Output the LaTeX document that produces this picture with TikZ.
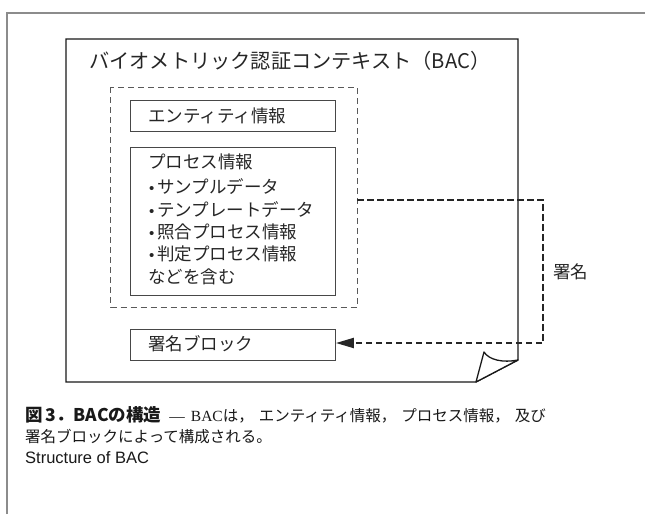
\documentclass[tikz,border=0pt]{standalone}
\usepackage{fontspec}
\setmainfont{Liberation Sans}
\newfontfamily\cjk{Noto Sans CJK JP}
\newfontfamily\serifen{Liberation Serif}
\usetikzlibrary{arrows.meta}
\newcommand{\blt}{\makebox[11pt][c]{\rmfamily\fontsize{15}{15}\selectfont •}}
\newcommand{\jcomma}{，\hspace{5pt}}
\tikzset{
  box/.style={draw=black!72, line width=0.9pt, rectangle, anchor=north west, inner sep=0pt},
  dashbox/.style={draw=black!65, line width=0.9pt, dash pattern=on 6pt off 4pt},
  doc/.style={draw=black!90, line width=1.3pt, line join=miter},
  frame/.style={draw=black!45, line width=1.6pt},
  jtxt/.style={font=\cjk\fontsize{17.5}{21}\selectfont, anchor=west, inner sep=0pt, text=black!85},
  titletxt/.style={font=\cjk\fontsize{20.2}{24}\selectfont, anchor=west, inner sep=0pt, text=black!85},
  sigarrow/.style={draw=black!85, line width=2.1pt, dash pattern=on 6.5pt off 3.5pt, -{Triangle[length=18pt,width=10pt]}},
  captxt/.style={anchor=west, inner sep=0pt, text=black!90}
}
\begin{document}
\begin{tikzpicture}[x=1pt,y=-1pt]
\path[use as bounding box, fill=white] (0,0) rectangle (645,514);
% outer frame (top and left only visible)
\draw[frame] (7,514) -- (7,13) -- (645,13);
% document with folded corner
\draw[doc, fill=white] (66,39) -- (518,39) -- (518,360) -- (476,382) -- (66,382) -- cycle;
\draw[doc, fill=white, line join=round] (476,382) -- (484,352) .. controls (489,360) and (503,363) .. (518,360) -- cycle;
\node[titletxt] (title) at (89,61) {バイオメトリック認証コンテキスト（BAC）};
% dashed group
\draw[dashbox] (110.5,87) rectangle (357,307);
\coordinate (grpR) at (357,200);
% entity box
\node[box, minimum width=205pt, minimum height=31pt] (ent) at (130,100) {};
\node[jtxt] (enttxt) at (148,115.5) {エンティティ情報};
% process box
\node[box, minimum width=205pt, minimum height=148pt] (proc) at (130,147) {};
\node[jtxt] (p0) at (148,162) {プロセス情報};
\node[jtxt] (p1) at (146,187) {\blt サンプルデータ};
\node[jtxt] (p2) at (146,210) {\blt テンプレートデータ};
\node[jtxt] (p3) at (146,232) {\blt 照合プロセス情報};
\node[jtxt] (p4) at (146,254) {\blt 判定プロセス情報};
\node[jtxt] (p5) at (148,277) {などを含む};
% signature block
\node[box, minimum width=205pt, minimum height=31pt] (sig) at (130,328.5) {};
\node[jtxt] (sigtxt) at (148,344) {署名ブロック};
% signature arrow
\coordinate (c1) at (543,200);
\coordinate (c2) at (543,343);
\draw[sigarrow] (grpR) -- (c1) -- (c2) -- (sig.east |- c2);
\node[jtxt] (siglbl) at (553,272) {署名};
% caption
\node[captxt] (cap1) at (25,415) {{\cjk\bfseries\fontsize{17.5}{20}\selectfont 図\,3．BACの構造}\hspace{8pt}{\serifen\fontsize{15.5}{18}\selectfont —\hspace{6pt}BAC}{\cjk\fontsize{15.5}{18}\selectfont は\jcomma エンティティ情報\jcomma プロセス情報\jcomma 及び}};
\node[captxt] (cap2) at (25,437) {\cjk\fontsize{15.5}{18}\selectfont 署名ブロックによって構成される。};
\node[captxt] (cap3) at (25,458) {\fontsize{16.5}{18}\selectfont Structure of BAC};
\end{tikzpicture}
\end{document}
